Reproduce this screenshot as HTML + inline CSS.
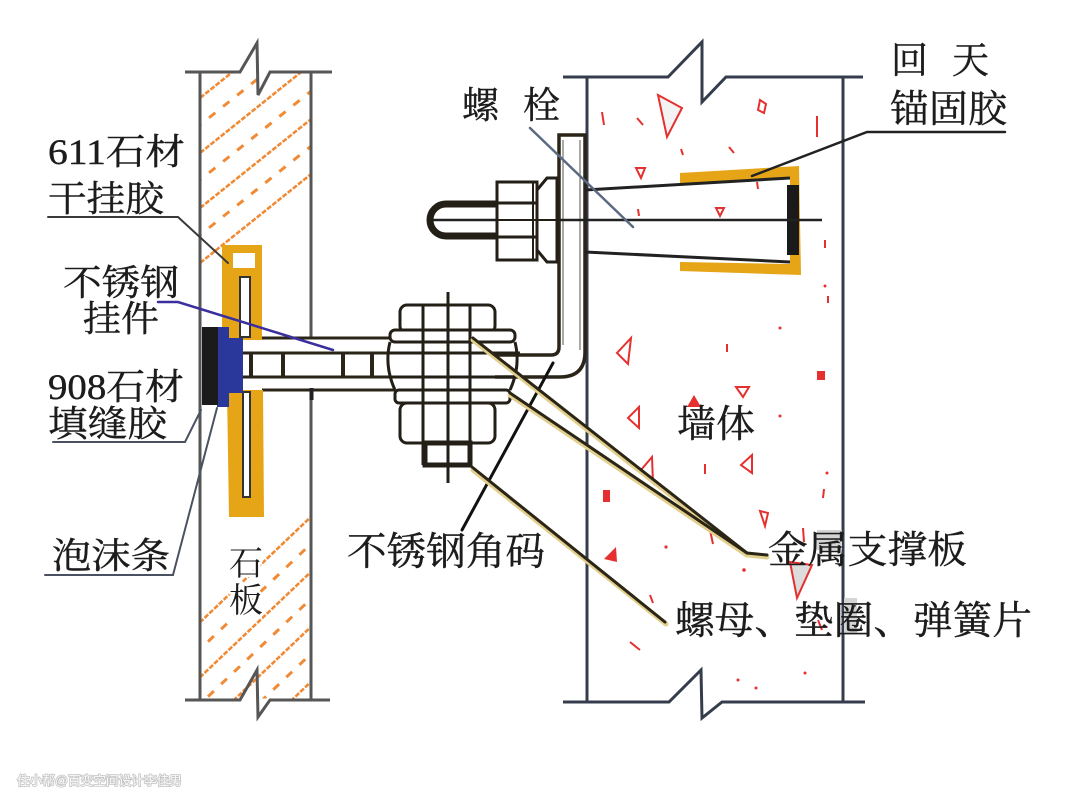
<!DOCTYPE html>
<html><head><meta charset="utf-8"><style>
html,body{margin:0;padding:0;background:#fff;}
svg{display:block;}
text{font-family:"Liberation Serif","Noto Serif CJK SC","Noto Serif CJK SC",serif;fill:#1c1c1c;stroke:#1c1c1c;stroke-width:0.4;}
</style></head><body>
<svg width="1080" height="807" viewBox="0 0 1080 807" xmlns="http://www.w3.org/2000/svg">
<rect width="1080" height="807" fill="#fff"/>
<defs><clipPath id="st"><rect x="201.5" y="73.5" width="108" height="625"/></clipPath></defs>

<!-- stone hatching -->
<g clip-path="url(#st)" fill="none" stroke="#f08a35">
  <g stroke-width="2.6" stroke-dasharray="5 1.6">
    <line x1="195" y1="102" x2="315" y2="6"/>
    <line x1="195" y1="157" x2="315" y2="61"/>
    <line x1="195" y1="212" x2="315" y2="116"/>
    <line x1="195" y1="267" x2="315" y2="171"/>
    <line x1="195" y1="627" x2="315" y2="513"/>
    <line x1="195" y1="682" x2="315" y2="568"/>
    <line x1="195" y1="737" x2="315" y2="623"/>
    <line x1="195" y1="792" x2="315" y2="678"/>
  </g>
  <g stroke-width="3" stroke-dasharray="8 10">
    <line x1="195" y1="129" x2="315" y2="33"/>
    <line x1="195" y1="184" x2="315" y2="88"/>
    <line x1="195" y1="239" x2="315" y2="143"/>
    <line x1="195" y1="654" x2="315" y2="540"/>
    <line x1="195" y1="709" x2="315" y2="595"/>
    <line x1="195" y1="764" x2="315" y2="650"/>
  </g>
</g>

<!-- stone outlines -->
<g stroke="#565656" stroke-width="3" fill="none">
  <path d="M185,72 H240 L257,43 L258,95 L270,72 H332"/>
  <path d="M185,700 H240 L257,670 L258,717 L270,700 H330"/>
  <line x1="200" y1="72" x2="200" y2="700"/>
  <line x1="311" y1="72" x2="311" y2="338"/>
  <line x1="311" y1="390" x2="311" y2="700"/>
</g>

<!-- wall outlines -->
<g stroke="#353d4d" stroke-width="3" fill="none">
  <path d="M563,77 H668 L702,42 L702,102 L726,77 H863"/>
  <path d="M563,702 H669 L701,670 L702,718 L722,702 H865"/>
  <line x1="587" y1="77" x2="587" y2="702"/>
  <line x1="843" y1="77" x2="843" y2="702"/>
</g>

<!-- wall red specks -->
<g stroke="#e53030" stroke-width="2" fill="none">
  <polygon points="658,95 682,108 667,137" fill="#f3f3f3"/>
  <polygon points="631,338 617,353 628,364"/>
  <polygon points="639,407 628,418 639,428"/>
  <polygon points="736,387 749,387 743,397"/>
  <polygon points="752,455 741,465 752,473"/>
  <polygon points="652,457 641,470 653,483"/>
  <polygon points="790,562 812,565 797,598" fill="#dcdcdc"/>
  <polygon points="636,168 645,168 641,178"/>
  <polygon points="716,208 724,208 720,216"/>
  <polygon points="760,511 768,513 765,526"/>
  <line x1="602" y1="112" x2="604" y2="125"/>
  <line x1="637" y1="118" x2="643" y2="125"/>
  <path d="M760,100 L766,104 L764,113 L758,110 Z"/>
  <line x1="817" y1="116" x2="817" y2="137"/>
  <line x1="681" y1="149" x2="683" y2="155"/>
  <line x1="729" y1="147" x2="734" y2="153"/>
  <line x1="638" y1="209" x2="639" y2="216"/>
  <line x1="757" y1="182" x2="758" y2="189"/>
  <line x1="727" y1="344" x2="727" y2="352"/>
  <line x1="705" y1="464" x2="705" y2="474"/>
  <line x1="824" y1="489" x2="823" y2="498"/>
  <line x1="710" y1="530" x2="713" y2="544"/>
  <line x1="803" y1="528" x2="804" y2="542"/>
  <line x1="650" y1="595" x2="653" y2="603"/>
  <line x1="630" y1="642" x2="640" y2="650"/>
  <line x1="825" y1="240" x2="825" y2="248"/>
  <line x1="828" y1="296" x2="828" y2="303"/>
  <line x1="818" y1="620" x2="822" y2="630"/>
</g>
<g fill="#e53030">
  <polygon points="694,395 701,407 687,407"/>
  <rect x="817" y="371" width="8" height="9"/>
  <rect x="603" y="490" width="7" height="12"/>
  <polygon points="616,547 617,562 604,559"/>
  <circle cx="780" cy="328" r="1.5"/>
  <circle cx="825" cy="286" r="1.5"/>
  <circle cx="780" cy="416" r="1.5"/>
  <circle cx="827" cy="473" r="1.5"/>
  <circle cx="666" cy="547" r="1.6"/>
  <circle cx="744" cy="570" r="1.8"/>
  <circle cx="738" cy="680" r="1.5"/>
  <circle cx="756" cy="688" r="1.5"/>
  <circle cx="805" cy="673" r="1.5"/>
</g>
<rect x="817" y="530" width="25" height="20" fill="#d4d4d4"/>
<rect x="844" y="598" width="13" height="35" fill="#d4d4d4"/>

<!-- horizontal bars (stone -> bracket) -->
<g stroke="#2b2519" stroke-width="3" fill="none">
  <line x1="262" y1="338" x2="395" y2="338"/>
  <line x1="243" y1="353" x2="520" y2="353"/>
  <line x1="243" y1="377" x2="520" y2="377"/>
  <line x1="262" y1="390" x2="395" y2="390"/>
</g>
<g stroke="#2b2519" stroke-width="4">
  <line x1="251" y1="353" x2="251" y2="377"/>
  <line x1="283" y1="353" x2="283" y2="377"/>
  <line x1="343" y1="353" x2="343" y2="377"/>
  <line x1="372" y1="353" x2="372" y2="377"/>
</g>
<rect x="309.5" y="388" width="4" height="12" fill="#222"/>

<!-- bracket (angle) -->
<path d="M495,355 H551 Q559,355 559,347 V135 H585 V352 Q585,377 560,377 H495" fill="#fff" stroke="#2b2519" stroke-width="3.5"/>
<line x1="563" y1="140" x2="563" y2="345" stroke="#5a5448" stroke-width="1"/>
<line x1="580" y1="140" x2="580" y2="350" stroke="#5a5448" stroke-width="1"/>

<!-- anchor: glue, sleeve -->
<path d="M680,173 L799,166 L801,275 L680,271 L680,262 L790,264 L790,179 L680,185 Z" fill="#e5a516"/>
<g stroke="#222" stroke-width="3" fill="none">
  <line x1="585" y1="190" x2="790" y2="178"/>
  <line x1="585" y1="252" x2="790" y2="262"/>
</g>
<rect x="787" y="185" width="12" height="70" fill="#1a1a1a"/>
<line x1="430" y1="220" x2="822" y2="220" stroke="#222" stroke-width="2.5"/>

<!-- bolt head, nut, washer -->
<path d="M497,204 H446 A16,16 0 0 0 446,236 H497" fill="none" stroke="#231f17" stroke-width="7"/>
<rect x="497" y="182" width="40" height="78" fill="#fff" stroke="#231f17" stroke-width="3"/>
<line x1="497" y1="203" x2="537" y2="203" stroke="#231f17" stroke-width="3"/>
<line x1="497" y1="237" x2="537" y2="237" stroke="#231f17" stroke-width="3"/>
<line x1="497" y1="220" x2="537" y2="220" stroke="#231f17" stroke-width="2"/>
<line x1="533" y1="182" x2="533" y2="260" stroke="#231f17" stroke-width="2"/>
<polygon points="537,190 547,178 557,178 557,262 547,262 537,250" fill="#fff" stroke="#231f17" stroke-width="3"/>
<line x1="537" y1="220" x2="557" y2="220" stroke="#231f17" stroke-width="2"/>

<!-- hanger -->
<rect x="222" y="245" width="40" height="95" fill="#e5a516"/>
<rect x="233" y="253" width="22" height="15" fill="#fff"/>
<rect x="240" y="277" width="10" height="60" fill="#fff" stroke="#333" stroke-width="2"/>
<path d="M227,390 H263 L264,517 H229 Z" fill="#e5a516"/>
<rect x="243" y="392" width="7" height="105" fill="#fff" stroke="#333" stroke-width="2"/>
<rect x="217" y="327" width="12" height="80" fill="#2a389c"/>
<rect x="217" y="338" width="26" height="55" fill="#2a389c"/>
<rect x="202" y="327" width="16" height="78" fill="#1b1b1b"/>

<!-- nut assembly -->
<line x1="448" y1="292" x2="448" y2="483" stroke="#231f17" stroke-width="3"/>
<g fill="#fff" stroke="#231f17" stroke-width="3">
  <rect x="400" y="305" width="95" height="28" rx="7"/>
  <rect x="390" y="330" width="125" height="12" rx="5"/>
  <rect x="395" y="390" width="115" height="13" rx="4"/>
  <rect x="400" y="403" width="95" height="40" rx="7"/>
</g>
<g stroke="#231f17" stroke-width="3" fill="none">
  <line x1="390" y1="353" x2="515" y2="353"/>
  <line x1="390" y1="377" x2="515" y2="377"/>
  <path d="M390,342 Q384,366 395,390"/>
  <path d="M515,342 Q521,366 510,390"/>
  <line x1="423" y1="305" x2="423" y2="465"/>
  <line x1="470" y1="305" x2="470" y2="465"/>
  <line x1="448" y1="292" x2="448" y2="483"/>
</g>
<rect x="425" y="443" width="45" height="22" fill="#fff" stroke="#231f17" stroke-width="5"/>
<line x1="448" y1="443" x2="448" y2="483" stroke="#231f17" stroke-width="3"/>

<!-- leader lines -->
<g fill="none" stroke-linecap="round">
  <path d="M48,217 H178 L228,263" stroke="#3a3a3a" stroke-width="2"/>
  <path d="M158,302 L178,302 L333,350" stroke="#3b2f9e" stroke-width="2.5"/>
  <path d="M53,442 H185 L201,410" stroke="#4a5262" stroke-width="2"/>
  <path d="M45,575 H173 L217,408" stroke="#4a5262" stroke-width="2"/>
  <path d="M530,128 L633,227" stroke="#5b6a82" stroke-width="2.5"/>
  <path d="M1005,132 H867 L752,176" stroke="#222" stroke-width="2.5"/>
  <path d="M462,530 L553,363" stroke="#111" stroke-width="3"/>
  <g stroke="#e2cf8e" stroke-width="5">
    <path d="M473,470 L666,624"/>
    <path d="M473,340 L747,555 L767,557"/>
    <path d="M510,395 L747,555"/>
  </g>
  <g stroke="#2a2515" stroke-width="3">
    <path d="M472,467 L665,622"/>
    <path d="M473,338 L747,553 L767,555"/>
    <path d="M510,393 L747,553"/>
  </g>
</g>

<!-- labels -->
<text x="48" y="164" font-size="36" textLength="137" lengthAdjust="spacingAndGlyphs">611石材</text>
<text x="48" y="211" font-size="36" textLength="116" lengthAdjust="spacingAndGlyphs">干挂胶</text>
<text x="63" y="295" font-size="36" textLength="116" lengthAdjust="spacingAndGlyphs">不锈钢</text>
<text x="83" y="331" font-size="36" textLength="76" lengthAdjust="spacingAndGlyphs">挂件</text>
<text x="48" y="399" font-size="36" textLength="136" lengthAdjust="spacingAndGlyphs">908石材</text>
<text x="48" y="436" font-size="36" textLength="119" lengthAdjust="spacingAndGlyphs">填缝胶</text>
<text x="52" y="568" font-size="36" textLength="118" lengthAdjust="spacingAndGlyphs">泡沫条</text>
<g style="paint-order:stroke">
<text x="229" y="575" font-size="34" stroke="#fff" stroke-width="5" style="paint-order:stroke;stroke:#fff;stroke-width:5">石</text>
<text x="229" y="612" font-size="34" style="paint-order:stroke;stroke:#fff;stroke-width:5">板</text>
</g>
<text x="462" y="118" font-size="37">螺</text>
<text x="523" y="118" font-size="37">栓</text>
<text x="891" y="73" font-size="37">回</text>
<text x="952" y="73" font-size="37">天</text>
<text x="890" y="122" font-size="38" textLength="117" lengthAdjust="spacingAndGlyphs">锚固胶</text>
<text x="677" y="437" font-size="38" textLength="78" lengthAdjust="spacingAndGlyphs">墙体</text>
<text x="347" y="565" font-size="39" textLength="198" lengthAdjust="spacingAndGlyphs">不锈钢角码</text>
<text x="768" y="563" font-size="38" textLength="199" lengthAdjust="spacingAndGlyphs">金属支撑板</text>
<text x="675" y="634" font-size="39" textLength="357" lengthAdjust="spacingAndGlyphs">螺母、垫圈、弹簧片</text>

<!-- watermark -->
<text x="17" y="785" font-size="12.5" textLength="165" lengthAdjust="spacingAndGlyphs" style="fill:#fafafa;stroke:#c4c4c4;stroke-width:1.6;paint-order:stroke;font-family:'Liberation Sans','Noto Sans CJK SC',sans-serif">住小帮@百变空间设计李佳男</text>
</svg>
</body></html>
